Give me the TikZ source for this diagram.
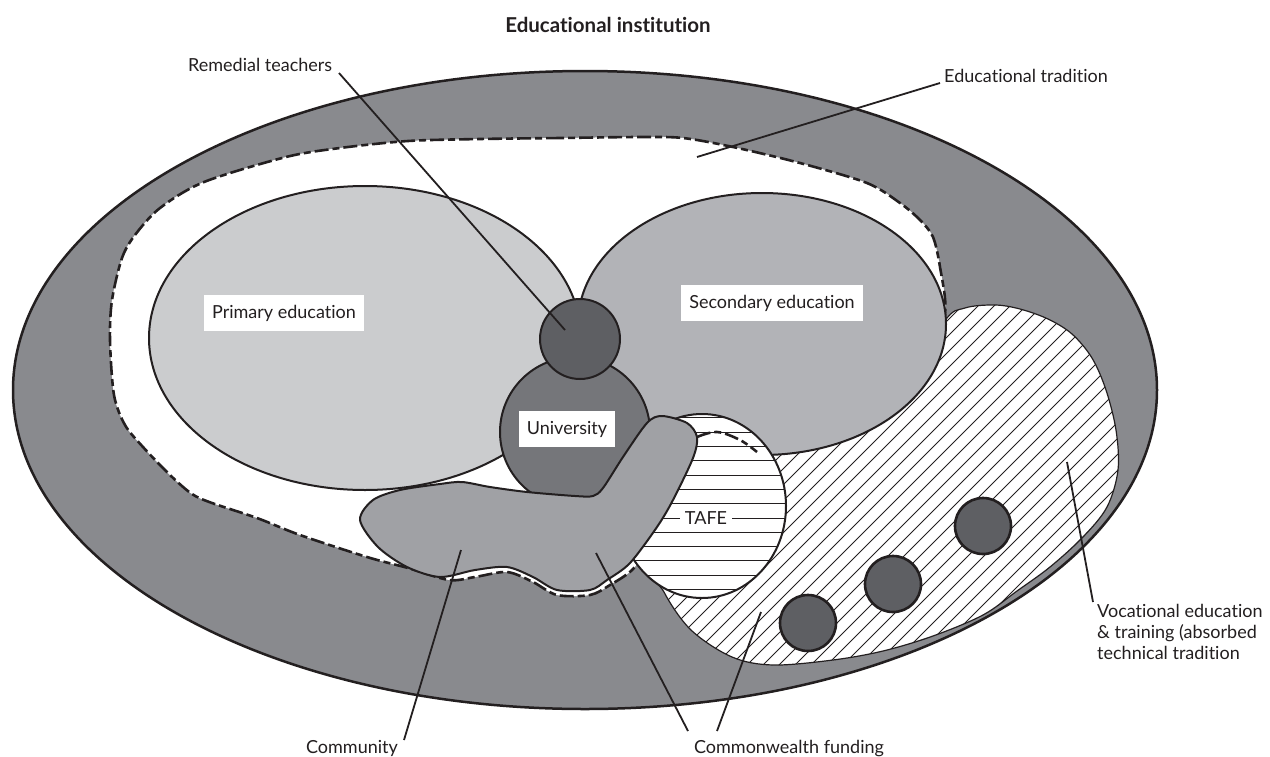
\documentclass[tikz,border=0pt]{standalone}
\usepackage{fontspec}
\setmainfont{Lato}[Ligatures=NoCommon]
\definecolor{band}{RGB}{137,138,142}
\definecolor{prim}{RGB}{203,204,206}
\definecolor{sec}{RGB}{178,179,183}
\definecolor{univ}{RGB}{117,118,122}
\definecolor{darkc}{RGB}{94,95,99}
\definecolor{comm}{RGB}{160,161,165}
\definecolor{ink}{RGB}{35,31,32}
\begin{document}
\begin{tikzpicture}[x=1pt,y=-1pt,
  lab/.style={font=\fontsize{18}{21}\selectfont, inner sep=0pt, text=ink},
  box/.style={lab, fill=white, inner xsep=8pt, minimum height=36pt},
  leader/.style={draw=ink, line width=1.8pt},
  edge/.style={draw=ink, line width=2pt},
  dashpat/.style={draw=ink, line width=2.6pt, dash pattern=on 14pt off 4pt on 7pt off 4pt},
  blob/.style={circle, draw=ink, inner sep=0pt}]
\useasboundingbox (0,0) rectangle (1270,756);
\fill[white] (0,0) rectangle (1270,756);

% outer band
\draw[draw=ink, line width=2.5pt, fill=band] (585,390) ellipse [x radius=572pt, y radius=319pt];

% educational tradition (white, dashed)
\draw[dashpat, fill=white] plot[smooth cycle, tension=0.5] coordinates {
 (640,137) (560,138) (480,139) (408,141) (340,148) (286,157) (204,182) (160,208)
 (135,235) (122,258) (112,300) (110,340) (114,395) (125,425) (143,447) (170,475)
 (192,494) (212,503) (257,518) (300,535) (367,557) (408,568) (449,580) (475,577)
 (507,572) (533,582) (557,595) (590,595) (610,585) (633,569) (652,540) (675,490)
 (697,437) (717,432) (740,440) (757,452) (820,440) (880,400) (925,350) (945,313)
 (940,267) (933,237) (920,220) (900,203) (867,183) (800,163) (733,147) (683,138)};

% vocational education (hatched)
\draw[draw=ink, line width=1.2pt, fill=white,
  path picture={\foreach \a in {180,196,...,1160} \draw[ink, line width=0.9pt] (\a,720) -- ++(470,-470);}]
 plot[smooth cycle, tension=0.55] coordinates {
 (655,560) (664,592) (691,630) (732,657) (773,665) (833,660) (883,651) (933,636)
 (983,615) (1017,591) (1050,567) (1083,537) (1107,507) (1118,470) (1116,430)
 (1106,390) (1092,358) (1072,334) (1048,319) (1020,309) (995,305) (965,308)
 (944,322) (900,400) (820,440) (740,470)};

% primary and secondary
\draw[edge, fill=prim] (365,338) ellipse [x radius=216pt, y radius=152pt];
\draw[edge, fill=sec] (762,324) ellipse [x radius=184pt, y radius=131pt];

% TAFE
\draw[edge, fill=white,
  path picture={\foreach \k in {-7,...,6} \draw[ink, line width=1pt] (600,{518+14.3*\k}) -- (820,{518+14.3*\k});}]
 (702,506) ellipse [x radius=84pt, y radius=92pt];
\draw[dashpat] plot[smooth, tension=0.6] coordinates {(697,437) (717,432) (740,440) (757,452)};

% university and remedial
\node[blob, line width=2pt, fill=univ, minimum size=150pt] (univc) at (575,432) {};
\node[blob, line width=2pt, fill=darkc, minimum size=80pt] (remc) at (580,339) {};

% community
\draw[edge, fill=comm] plot[smooth cycle, tension=0.5] coordinates {
 (360,520) (373,500) (400,490) (440,484) (462,482) (490,487) (527,492) (575,496)
 (593,496) (603,488) (623,457) (647,423) (662,416) (687,423) (697,437) (693,458)
 (673,500) (657,527) (630,563) (607,580) (590,590) (557,590) (533,577) (507,567)
 (475,570) (440,577) (407,567) (378,547)};

% vocational dark circles
\node[blob, line width=2.6pt, fill=darkc, minimum size=56pt] (v1) at (983,526) {};
\node[blob, line width=2.6pt, fill=darkc, minimum size=56pt] (v2) at (893,584) {};
\node[blob, line width=2.6pt, fill=darkc, minimum size=56pt] (v3) at (808,623) {};

% labels
\node[lab, font=\bfseries\fontsize{20.5}{24}\selectfont] (title) at (608,25) {Educational institution};
\node[box] (primlab) at (284,313) {Primary education};
\node[box] (seclab) at (772,303) {Secondary education};
\node[box] (unilab) at (567,429) {University};
\node[lab, fill=white, inner xsep=5pt, inner ysep=3pt] (tafelab) at (706,518) {TAFE};

\node[lab, anchor=base west] (rem) at (188,71) {Remedial teachers};
\node[lab, anchor=base west] (edt) at (944,82) {Educational tradition};
\node[lab, anchor=north west, align=left] (voc) at (1097,604) {Vocational education\\\& training (absorbed\\technical tradition};
\node[lab, anchor=base] (comlab) at (352,753) {Community};
\node[lab, anchor=base] (cwlab) at (789,753) {Commonwealth funding};

% leader end points
\coordinate (remS) at (339,73);
\coordinate (remE) at (565,330);
\coordinate (edtS) at (940,83);
\coordinate (edtE) at (697,157);
\coordinate (vocS) at (1093,602);
\coordinate (vocE) at (1067,462);
\coordinate (comS) at (404,740);
\coordinate (comE) at (461,550);
\coordinate (cwS1) at (688,731);
\coordinate (cwE1) at (596,553);
\coordinate (cwS2) at (717,731);
\coordinate (cwE2) at (761,612);

\draw[leader] (remS) -- (remE);
\draw[leader] (edtS) -- (edtE);
\draw[leader] (vocS) -- (vocE);
\draw[leader] (comS) -- (comE);
\draw[leader] (cwS1) -- (cwE1);
\draw[leader] (cwS2) -- (cwE2);
\end{tikzpicture}
\end{document}
